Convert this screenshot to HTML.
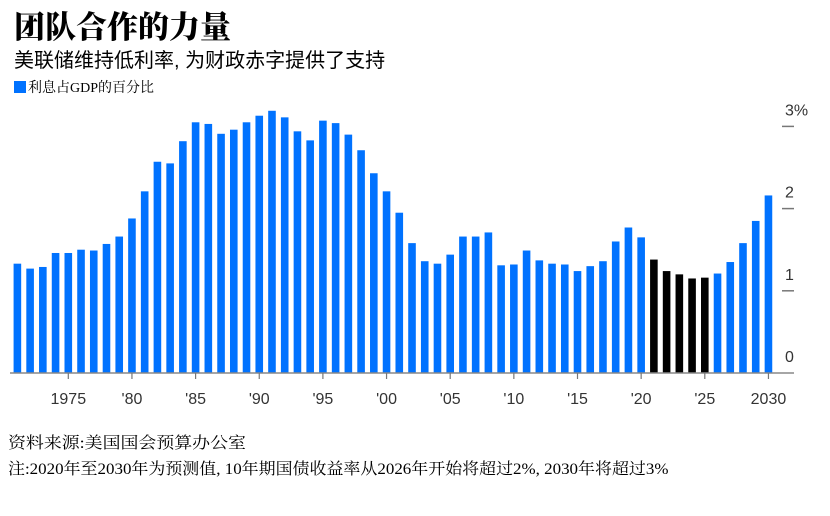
<!DOCTYPE html>
<html><head><meta charset="utf-8"><style>
body{margin:0;background:#fff;width:830px;height:516px;overflow:hidden;position:relative;font-family:"Liberation Sans","Noto Sans CJK SC",sans-serif;}
.t{position:absolute;white-space:nowrap;color:#000;}
</style></head><body>
<div class="t" style="left:14px;top:2px;font-size:31px;font-weight:900;font-family:'Liberation Serif','Noto Serif CJK SC',serif;">团队合作的力量</div>
<div class="t" style="left:14px;top:44px;font-size:20px;">美联储维持低利率, 为财政赤字提供了支持</div>
<div class="t" style="left:14px;top:77px;font-size:14px;font-family:'Liberation Serif','Noto Serif CJK SC',serif;"><span style="display:inline-block;width:12px;height:12px;background:#0072ff;vertical-align:-1px;margin-right:2px"></span>利息占GDP的百分比</div>
<svg id="chart" width="830" height="516" style="position:absolute;left:0;top:0"></svg>
<div class="t" style="left:8px;top:430px;font-size:16px;transform-origin:0 0;transform:scaleX(1.12);font-family:'Liberation Serif','Noto Serif CJK SC',serif;">资料来源:美国国会预算办公室</div>
<div class="t" style="left:8px;top:456px;font-size:16px;transform-origin:0 0;transform:scaleX(1.06);font-family:'Liberation Serif','Noto Serif CJK SC',serif;">注:2020年至2030年为预测值, 10年期国债收益率从2026年开始将超过2%, 2030年将超过3%</div>
<script>
const years=[1971,1972,1973,1974,1975,1976,1977,1978,1979,1980,1981,1982,1983,1984,1985,1986,1987,1988,1989,1990,1991,1992,1993,1994,1995,1996,1997,1998,1999,2000,2001,2002,2003,2004,2005,2006,2007,2008,2009,2010,2011,2012,2013,2014,2015,2016,2017,2018,2019,2020,2021,2022,2023,2024,2025,2026,2027,2028,2029,2030];
const values=[1.33,1.27,1.29,1.46,1.46,1.50,1.49,1.57,1.66,1.88,2.21,2.57,2.55,2.82,3.05,3.03,2.91,2.96,3.05,3.13,3.19,3.11,2.94,2.83,3.07,3.04,2.90,2.71,2.43,2.21,1.95,1.58,1.36,1.33,1.44,1.66,1.66,1.71,1.31,1.32,1.49,1.37,1.33,1.32,1.24,1.30,1.36,1.60,1.77,1.65,1.38,1.24,1.20,1.15,1.16,1.21,1.35,1.58,1.85,2.16];
const highlightYears=[2021,2022,2023,2024,2025];
const yTicks=[0,1,2,3];
const yTickLabels=['0','1','2','3%'];
const xTicks=[1975,1980,1985,1990,1995,2000,2005,2010,2015,2020,2025,2030];
const xTickLabels=['1975',"'80","'85","'90","'95","'00","'05","'10","'15","'20","'25",'2030'];
const svg=document.getElementById('chart');
const NS='http://www.w3.org/2000/svg';
const x=yr=>68.3+(yr-1975)*12.73;
const y=v=>373-v*82.2;
function mk(tag,a){const e=document.createElementNS(NS,tag);for(const k in a)e.setAttribute(k,a[k]);svg.appendChild(e);return e;}
years.forEach((yr,i)=>{
 const r=mk('rect',{x:x(yr)-3.8,y:y(values[i]),width:7.6,height:y(0)-y(values[i]),fill:highlightYears.includes(yr)?'#000':'#0072ff'});
 
 
});
const base=mk('line',{x1:10,x2:794,y1:y(0),y2:y(0),stroke:'#888','stroke-width':1.5});


yTicks.forEach((v,i)=>{
 if(v>0){const l=mk('line',{x1:782,x2:794,y1:y(v),y2:y(v),stroke:'#777','stroke-width':1.5});
 
 }
 const t=mk('text',{x:785,y:y(v)-11,'font-size':16,fill:'#333','font-family':'Liberation Sans, sans-serif'});
 t.textContent=yTickLabels[i];
 
 
});
xTicks.forEach((yr,i)=>{
 const l=mk('line',{x1:x(yr),x2:x(yr),y1:y(0),y2:y(0)+6,stroke:'#777','stroke-width':1.2});
 
 
 const t=mk('text',{x:x(yr),y:404,'font-size':16,fill:'#333','text-anchor':'middle','font-family':'Liberation Sans, sans-serif'});
 t.textContent=xTickLabels[i];
 
 
});
</script>
</body></html>
